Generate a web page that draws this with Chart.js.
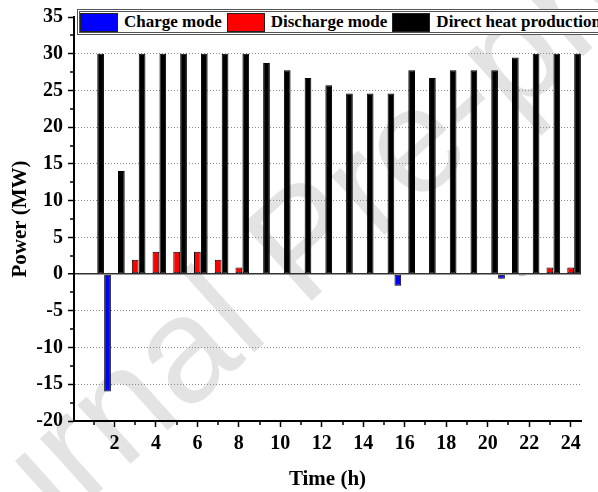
<!DOCTYPE html>
<html>
<head>
<meta charset="utf-8">
<script src="https://cdn.jsdelivr.net/npm/chart.js@4.4.1/dist/chart.umd.min.js"></script>
<style>
  html, body { margin: 0; padding: 0; background: #fff; overflow: hidden; }
  #wrap { position: relative; width: 598px; height: 492px; overflow: hidden; background: #fff; }
  #watermark {
    position: absolute; left: 302px; top: 240px;
    font: 150px "Liberation Sans", Arial, sans-serif; color: #e3e3e3; white-space: nowrap;
    transform: translate(-50%, -50%) rotate(-42deg);
  }
  #powerChart { position: absolute; left: 0; top: 0; }
  #powerLegend {
    position: absolute; left: 77px; top: 9px; width: 560px; height: 20px;
    border: 3px double #555; background: #fff;
    display: flex; align-items: center;
    font: bold 17px "Liberation Serif", "Times New Roman", serif; color: #000; white-space: nowrap;
  }
  #powerLegend .sw { width: 36px; height: 17px; border: 1px solid #222; margin: 0 6px 0 0; }
  #powerLegend .txt { margin-right: 5px; }
</style>
</head>
<body>
<div id="wrap">
  <div id="watermark">Journal Pre-proof</div>
  <canvas id="powerChart" width="598" height="492"></canvas>
  <div id="powerLegend"></div>
</div>
<script>
// hourly schedule (MW)
const hours = [1, 2, 3, 4, 5, 6, 7, 8, 9, 10, 11, 12, 13, 14, 15, 16, 17, 18, 19, 20, 21, 22, 23, 24];
const chargeMode = [0, -16, 0, 0, 0, 0, 0, 0, 0, 0, 0, 0, 0, 0, 0, -1.6, 0, 0, 0, 0, -0.65, -0.2, 0, 0];
const dischargeMode = [0, 0, 1.95, 3.05, 3.05, 3.05, 1.95, 0.9, 0, 0, 0, 0, 0, 0, 0, 0, 0, 0, 0, 0, 0, 0, 0.9, 0.9];
const directHeat = [30, 14.05, 30, 30, 30, 30, 30, 30, 28.75, 27.75, 26.7, 25.7, 24.6, 24.6, 24.6, 27.75, 26.7, 27.75, 27.75, 27.75, 29.5, 30, 30, 30];

const xTickLabels = [2, 4, 6, 8, 10, 12, 14, 16, 18, 20, 22, 24];
const xMinorTicks = [1, 3, 5, 7, 9, 11, 13, 15, 17, 19, 21, 23];
const yTickLabels = [-20, -15, -10, -5, 0, 5, 10, 15, 20, 25, 30, 35];
const yMinorTicks = [-17.5, -12.5, -7.5, -2.5, 2.5, 7.5, 12.5, 17.5, 22.5, 27.5, 32.5];

const seriesNames = ['Charge mode', 'Discharge mode', 'Direct heat production'];
const seriesColors = ['#0000ff', '#ff0000', '#000000'];

const serif = '"Liberation Serif", "Times New Roman", serif';

function toPoints(values) {
  // empty hours are left out so no zero-height bar is drawn
  return hours.map((h, i) => ({ x: h, y: values[i] === 0 ? null : values[i] }));
}

// short minor tick marks on both axes
const minorTicks = {
  id: 'minorTicks',
  afterDraw(chart) {
    const { ctx, scales: { x, y } } = chart;
    ctx.save();
    ctx.strokeStyle = '#000';
    ctx.lineWidth = 1.5;
    ctx.beginPath();
    xMinorTicks.forEach(h => {
      const px = Math.round(x.getPixelForValue(h));
      ctx.moveTo(px, x.top);
      ctx.lineTo(px, x.top + 4);
    });
    yMinorTicks.forEach(v => {
      const py = Math.round(y.getPixelForValue(v));
      ctx.moveTo(y.right - 4, py);
      ctx.lineTo(y.right, py);
    });
    ctx.stroke();
    ctx.restore();
  }
};

function createLegend() {
  const legend = document.getElementById('powerLegend');
  legend.innerHTML = '';
  seriesNames.forEach((name, i) => {
    const sw = document.createElement('span');
    sw.className = 'sw';
    sw.style.background = seriesColors[i];
    const txt = document.createElement('span');
    txt.className = 'txt';
    txt.textContent = name;
    legend.appendChild(sw);
    legend.appendChild(txt);
  });
}

const ctx = document.getElementById('powerChart').getContext('2d');
const powerChart = new Chart(ctx, {
  type: 'bar',
  data: {
    datasets: [chargeMode, dischargeMode, directHeat].map((values, i) => ({
      label: seriesNames[i],
      data: toPoints(values),
      backgroundColor: seriesColors[i],
      borderColor: '#000',
      borderWidth: 1,
      borderSkipped: false
    }))
  },
  options: {
    responsive: false,
    animation: false,
    layout: { padding: { top: 13, right: 17, bottom: 0, left: 0 } },
    datasets: { bar: { categoryPercentage: 1, barPercentage: 0.97 } },
    plugins: {
      legend: { display: false },
      tooltip: { enabled: false }
    },
    scales: {
      x: {
        type: 'linear',
        offset: false,
        min: 0.05,
        max: 24.5,
        afterBuildTicks: scale => { scale.ticks = xTickLabels.map(v => ({ value: v })); },
        afterFit: scale => {
          scale.height = 71;
          scale.paddingLeft = 0;
          scale.paddingRight = 0;
        },
        grid: { drawOnChartArea: false, offset: false, tickLength: 6, tickColor: '#000', tickWidth: 1.5 },
        border: { display: true, color: '#000', width: 2 },
        ticks: {
          color: '#000', padding: 5, maxRotation: 0, autoSkip: false,
          font: { family: serif, size: 20, weight: 'bold' }
        },
        title: {
          display: true, text: 'Time (h)', color: '#000',
          font: { family: serif, size: 21, weight: 'bold' },
          padding: { top: 0, bottom: 0 }
        }
      },
      y: {
        min: -20,
        max: 35,
        afterBuildTicks: scale => { scale.ticks = yTickLabels.map(v => ({ value: v })); },
        afterFit: scale => { scale.width = 74; },
        grid: {
          color: c => {
            const v = c.tick ? c.tick.value : null;
            if (v === -20 || v === 35) return 'rgba(0,0,0,0)';
            return v === 0 ? '#333' : '#8c8c8c';
          },
          lineWidth: c => (c.tick && c.tick.value === 0 ? 1.5 : 1),
          tickLength: 6, tickColor: '#000', tickWidth: 1.5
        },
        border: {
          display: true, color: '#000', width: 2,
          dash: c => (c.tick && c.tick.value === 0 ? [] : [1, 2])
        },
        ticks: {
          color: '#000', padding: 5,
          font: { family: serif, size: 20, weight: 'bold' }
        },
        title: {
          display: true, text: 'Power (MW)', color: '#000',
          font: { family: serif, size: 21, weight: 'bold' },
          padding: { top: 8, bottom: 0 }
        }
      }
    }
  },
  plugins: [minorTicks]
});

createLegend();
</script>
</body>
</html>
